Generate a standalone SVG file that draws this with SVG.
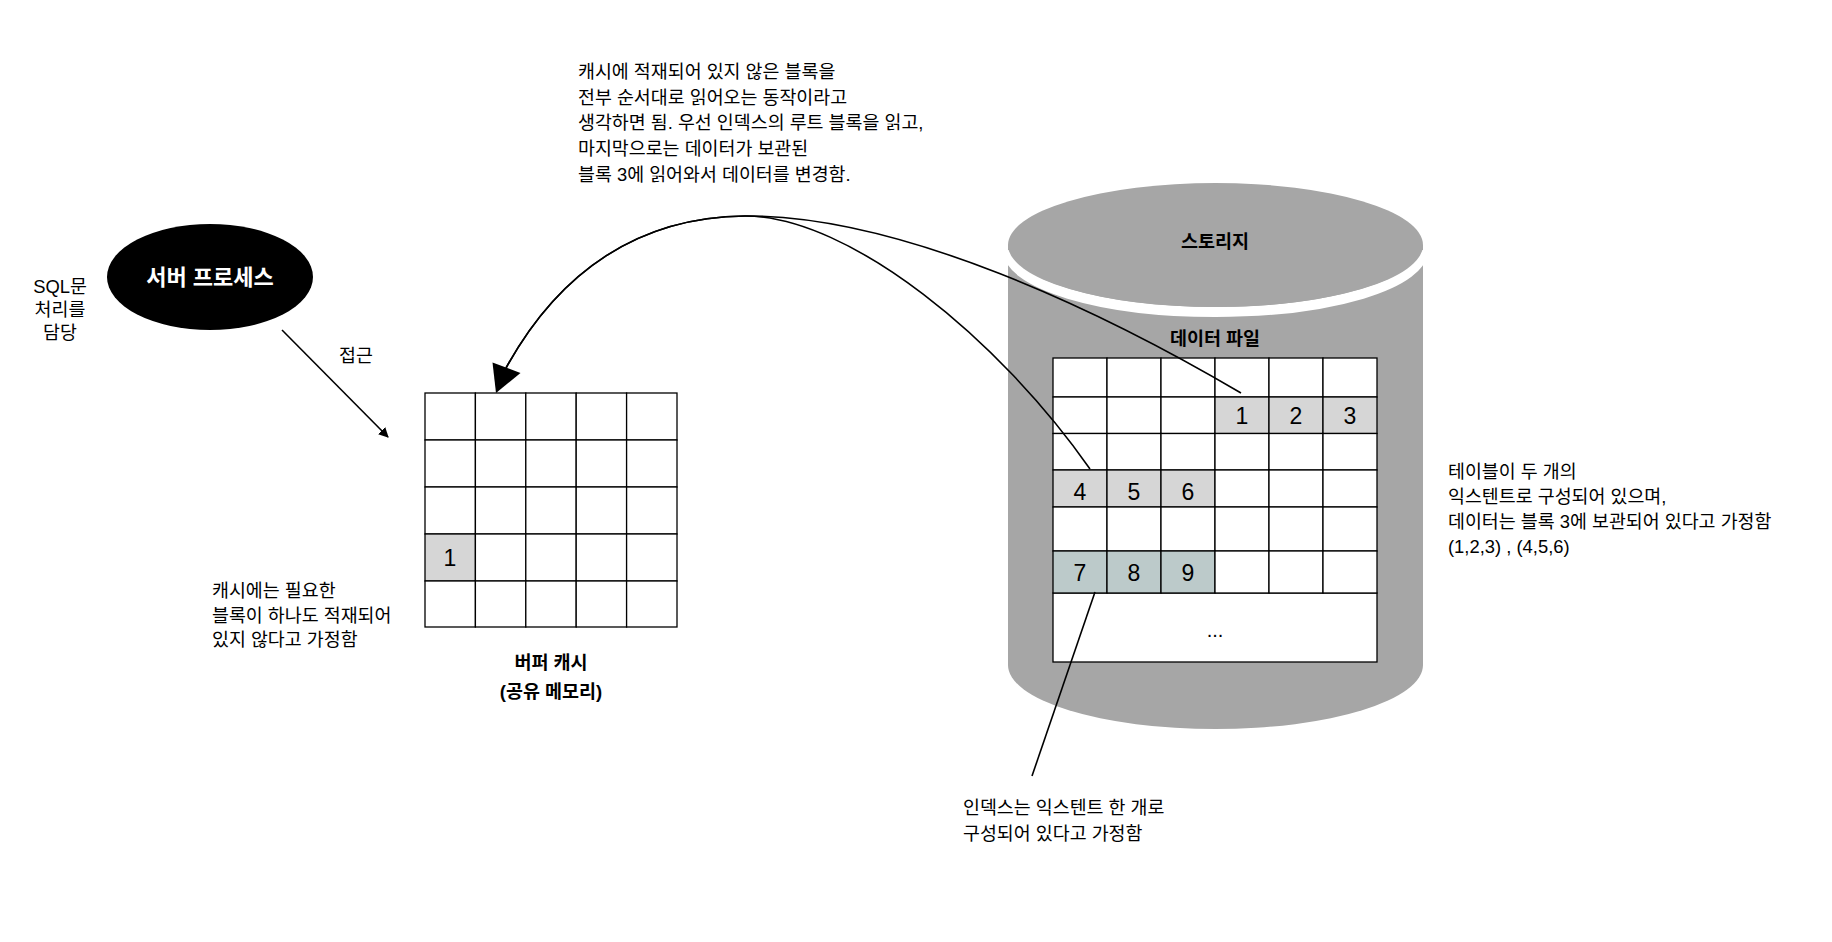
<svg xmlns="http://www.w3.org/2000/svg" width="1832" height="942" viewBox="0 0 1832 942">
<defs>
<style>
text{font-family:'Liberation Sans','Noto Sans CJK KR',sans-serif;fill:#000}
.t{font-size:18.4px}
.b{font-size:18.5px;font-weight:bold}
.num{font-size:23px;text-anchor:middle}
.mid{text-anchor:middle}
.cell{fill:#fff;stroke:#000;stroke-width:1.3}
.g1{fill:#d6d6d6}
.g2{fill:#bccaca}
.ln{fill:none;stroke:#000;stroke-width:1.6}
</style>
<marker id="arr" viewBox="0 0 10 10" refX="9" refY="5" markerWidth="10" markerHeight="10" markerUnits="userSpaceOnUse" orient="auto">
<path d="M0,0 L10,5 L0,10 Z" fill="#000"/>
</marker>
</defs>
<rect width="1832" height="942" fill="#fff"/>

<g id="server-process">
<ellipse cx="210" cy="277" rx="103" ry="53" fill="#000"/>
<text x="210" y="285" class="mid" style="font-size:22px;font-weight:bold;fill:#fff">서버 프로세스</text>
</g>

<g id="sql-note">
<text x="60" y="293" class="t mid">SQL문</text>
<text x="60" y="316" class="t mid">처리를</text>
<text x="60" y="339" class="t mid">담당</text>
</g>

<g id="access-label">
<text x="356" y="362" class="t mid">접근</text>
</g>

<g id="buffer-cache">
<g>
<rect class="cell" x="425" y="393" width="50.4" height="47"/><rect class="cell" x="475.4" y="393" width="50.4" height="47"/><rect class="cell" x="525.8" y="393" width="50.4" height="47"/><rect class="cell" x="576.2" y="393" width="50.4" height="47"/><rect class="cell" x="626.6" y="393" width="50.4" height="47"/>
<rect class="cell" x="425" y="440" width="50.4" height="47"/><rect class="cell" x="475.4" y="440" width="50.4" height="47"/><rect class="cell" x="525.8" y="440" width="50.4" height="47"/><rect class="cell" x="576.2" y="440" width="50.4" height="47"/><rect class="cell" x="626.6" y="440" width="50.4" height="47"/>
<rect class="cell" x="425" y="487" width="50.4" height="47"/><rect class="cell" x="475.4" y="487" width="50.4" height="47"/><rect class="cell" x="525.8" y="487" width="50.4" height="47"/><rect class="cell" x="576.2" y="487" width="50.4" height="47"/><rect class="cell" x="626.6" y="487" width="50.4" height="47"/>
<rect class="cell g1" x="425" y="534" width="50.4" height="47"/><rect class="cell" x="475.4" y="534" width="50.4" height="47"/><rect class="cell" x="525.8" y="534" width="50.4" height="47"/><rect class="cell" x="576.2" y="534" width="50.4" height="47"/><rect class="cell" x="626.6" y="534" width="50.4" height="47"/>
<rect class="cell" x="425" y="581" width="50.4" height="46"/><rect class="cell" x="475.4" y="581" width="50.4" height="46"/><rect class="cell" x="525.8" y="581" width="50.4" height="46"/><rect class="cell" x="576.2" y="581" width="50.4" height="46"/><rect class="cell" x="626.6" y="581" width="50.4" height="46"/>
</g>
<text x="450" y="566" class="num">1</text>
</g>

<g id="buffer-cache-label">
<text x="551" y="669" class="b mid">버퍼 캐시</text>
<text x="551" y="698" class="b mid">(공유 메모리)</text>
</g>

<g id="cache-note">
<text x="212" y="597" class="t">캐시에는 필요한</text>
<text x="212" y="622" class="t">블록이 하나도 적재되어</text>
<text x="212" y="646" class="t">있지 않다고 가정함</text>
</g>

<g id="storage">
<path d="M1008,245 L1008,665 A207.5,64 0 0 0 1423,665 L1423,245 Z" fill="#a6a6a6"/>
<path d="M1008,250 A207.5,62 0 0 0 1423,250" fill="none" stroke="#fff" stroke-width="10"/>
<ellipse cx="1215.5" cy="245" rx="207.5" ry="62" fill="#a6a6a6"/>
<text x="1215" y="248" class="b mid">스토리지</text>
</g>

<g id="data-file">
<text x="1215" y="345" class="b mid">데이터 파일</text>
<rect x="1053" y="593" width="324" height="69" class="cell"/>
<g>
<rect class="cell" x="1053" y="358" width="54" height="39"/><rect class="cell" x="1107" y="358" width="54" height="39"/><rect class="cell" x="1161" y="358" width="54" height="39"/><rect class="cell" x="1215" y="358" width="54" height="39"/><rect class="cell" x="1269" y="358" width="54" height="39"/><rect class="cell" x="1323" y="358" width="54" height="39"/>
<rect class="cell" x="1053" y="397" width="54" height="36.5"/><rect class="cell" x="1107" y="397" width="54" height="36.5"/><rect class="cell" x="1161" y="397" width="54" height="36.5"/><rect class="cell g1" x="1215" y="397" width="54" height="36.5"/><rect class="cell g1" x="1269" y="397" width="54" height="36.5"/><rect class="cell g1" x="1323" y="397" width="54" height="36.5"/>
<rect class="cell" x="1053" y="433.5" width="54" height="36.5"/><rect class="cell" x="1107" y="433.5" width="54" height="36.5"/><rect class="cell" x="1161" y="433.5" width="54" height="36.5"/><rect class="cell" x="1215" y="433.5" width="54" height="36.5"/><rect class="cell" x="1269" y="433.5" width="54" height="36.5"/><rect class="cell" x="1323" y="433.5" width="54" height="36.5"/>
<rect class="cell g1" x="1053" y="470" width="54" height="37"/><rect class="cell g1" x="1107" y="470" width="54" height="37"/><rect class="cell g1" x="1161" y="470" width="54" height="37"/><rect class="cell" x="1215" y="470" width="54" height="37"/><rect class="cell" x="1269" y="470" width="54" height="37"/><rect class="cell" x="1323" y="470" width="54" height="37"/>
<rect class="cell" x="1053" y="507" width="54" height="44"/><rect class="cell" x="1107" y="507" width="54" height="44"/><rect class="cell" x="1161" y="507" width="54" height="44"/><rect class="cell" x="1215" y="507" width="54" height="44"/><rect class="cell" x="1269" y="507" width="54" height="44"/><rect class="cell" x="1323" y="507" width="54" height="44"/>
<rect class="cell g2" x="1053" y="551" width="54" height="42"/><rect class="cell g2" x="1107" y="551" width="54" height="42"/><rect class="cell g2" x="1161" y="551" width="54" height="42"/><rect class="cell" x="1215" y="551" width="54" height="42"/><rect class="cell" x="1269" y="551" width="54" height="42"/><rect class="cell" x="1323" y="551" width="54" height="42"/>
</g>
<text x="1242" y="424" class="num">1</text>
<text x="1296" y="424" class="num">2</text>
<text x="1350" y="424" class="num">3</text>
<text x="1080" y="500" class="num">4</text>
<text x="1134" y="500" class="num">5</text>
<text x="1188" y="500" class="num">6</text>
<text x="1080" y="581" class="num">7</text>
<text x="1134" y="581" class="num">8</text>
<text x="1188" y="581" class="num">9</text>
<text x="1215" y="637" class="mid" style="font-size:20px">...</text>
</g>

<g id="top-note">
<text x="578" y="78" class="t">캐시에 적재되어 있지 않은 블록을</text>
<text x="578" y="104" class="t">전부 순서대로 읽어오는 동작이라고</text>
<text x="578" y="129" class="t">생각하면 됨. 우선 인덱스의 루트 블록을 읽고,</text>
<text x="578" y="155" class="t">마지막으로는 데이터가 보관된</text>
<text x="578" y="181" class="t">블록 3에 읽어와서 데이터를 변경함.</text>
</g>

<g id="table-note">
<text x="1448" y="478" class="t">테이블이 두 개의</text>
<text x="1448" y="503" class="t">익스텐트로 구성되어 있으며,</text>
<text x="1448" y="528" class="t">데이터는 블록 3에 보관되어 있다고 가정함</text>
<text x="1448" y="553" class="t">(1,2,3) , (4,5,6)</text>
</g>

<g id="index-note">
<text x="963" y="814" class="t">인덱스는 익스텐트 한 개로</text>
<text x="963" y="840" class="t">구성되어 있다고 가정함</text>
</g>

<g id="connectors">
<line x1="282" y1="330" x2="388" y2="437" class="ln" marker-end="url(#arr)"/>
<path d="M1241,393 C1100,310 900,215 745,216 C640,217 560,270 506,368" class="ln"/>
<path d="M1090,469 C1000,340 850,216 745,216 C640,217 560,270 506,368" class="ln"/>
<polygon points="496,393 492.5,362.5 520.5,373" fill="#000"/>
<line x1="1095" y1="592" x2="1032" y2="776" class="ln"/>
</g>
</svg>
